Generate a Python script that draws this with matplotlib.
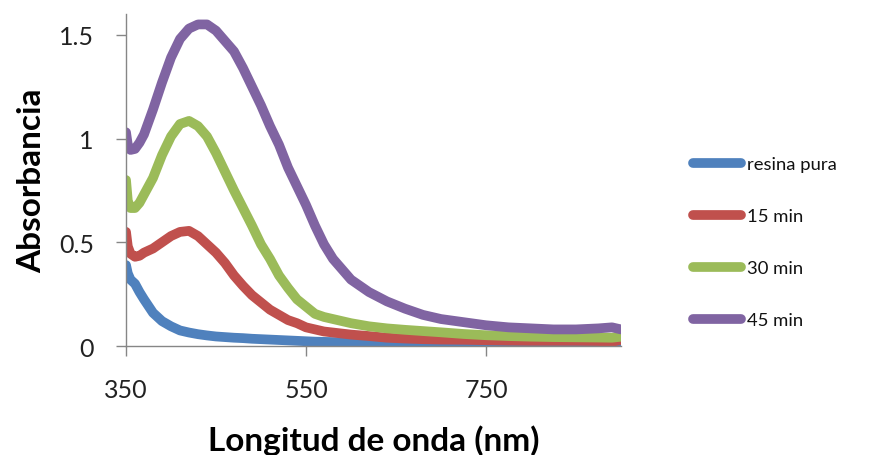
import matplotlib
matplotlib.use("Agg")
import matplotlib.pyplot as plt

plt.rcParams['font.family'] = ['Lato', 'DejaVu Sans']

# longitudes de onda (nm)
wl = [350, 352, 355, 360, 365, 370, 380, 390, 400, 410, 420, 430, 440, 450,
      460, 470, 480, 490, 500, 510, 520, 530, 540, 550, 560, 570, 580, 600,
      620, 640, 660, 680, 700, 725, 750, 775, 800, 825, 850, 875, 890, 900]

resina = [0.39, 0.35, 0.32, 0.30, 0.26, 0.225, 0.16, 0.12, 0.095, 0.075, 0.065,
          0.057, 0.051, 0.046, 0.043, 0.040, 0.038, 0.035, 0.033, 0.031, 0.029,
          0.027, 0.025, 0.023, 0.021, 0.020, 0.019, 0.018, 0.017, 0.017, 0.016,
          0.016, 0.015, 0.015, 0.015, 0.014, 0.014, 0.014, 0.014, 0.013, 0.01,
          0.015]

min15 = [0.55, 0.48, 0.445, 0.43, 0.435, 0.45, 0.47, 0.50, 0.53, 0.55, 0.555,
         0.53, 0.49, 0.45, 0.40, 0.34, 0.29, 0.245, 0.21, 0.175, 0.15, 0.125,
         0.11, 0.09, 0.08, 0.07, 0.065, 0.055, 0.048, 0.040, 0.036, 0.033,
         0.031, 0.030, 0.028, 0.026, 0.025, 0.025, 0.025, 0.024, 0.02, 0.03]

min30 = [0.80, 0.70, 0.665, 0.665, 0.69, 0.73, 0.81, 0.92, 1.01, 1.07, 1.085,
         1.06, 1.01, 0.93, 0.84, 0.75, 0.665, 0.58, 0.49, 0.42, 0.34, 0.28,
         0.225, 0.19, 0.155, 0.14, 0.13, 0.11, 0.095, 0.085, 0.078, 0.072,
         0.066, 0.058, 0.052, 0.048, 0.045, 0.043, 0.042, 0.041, 0.04, 0.045]

min45 = [1.03, 0.97, 0.945, 0.95, 0.98, 1.02, 1.14, 1.27, 1.39, 1.48, 1.53,
         1.55, 1.55, 1.52, 1.47, 1.42, 1.34, 1.25, 1.16, 1.06, 0.97, 0.86,
         0.77, 0.68, 0.58, 0.49, 0.42, 0.32, 0.26, 0.215, 0.18, 0.15, 0.13,
         0.115, 0.10, 0.09, 0.085, 0.08, 0.08, 0.085, 0.09, 0.08]

series = [resina, min15, min30, min45]
labels = ['resina pura', '15 min', '30 min', '45 min']
colors = ['#4F81BD', '#C0504D', '#9BBB59', '#8064A2']

fig = plt.figure(figsize=(8.69, 4.56), dpi=100)
ax = fig.add_axes([0.145, 0.239, 0.5696, 0.728])

for ys, lab, col in zip(series, labels, colors):
    ax.plot(wl, ys, color=col, linewidth=7, label=lab,
            solid_capstyle='round', solid_joinstyle='round')

ax.set_xlim(350, 900)
ax.set_ylim(0, 1.6)
ax.set_xticks([350, 550, 750])
ax.set_yticks([0, 0.5, 1, 1.5])
ax.set_yticklabels(['0', '0.5', '1', '1.5'])

for s in ['top', 'right']:
    ax.spines[s].set_visible(False)
for s in ['left', 'bottom']:
    ax.spines[s].set_color('#868686')
    ax.spines[s].set_linewidth(1.0)
ax.tick_params(colors='#868686', labelcolor='#222222', labelsize=18,
               length=7.2, width=1.0, direction='out', pad=16)

ax.set_xlabel('Longitud de onda (nm)', fontsize=24, fontweight='bold')
ax.set_ylabel('Absorbancia', fontsize=24, fontweight='bold')
ax.xaxis.label.set_va('baseline')
ax.yaxis.label.set_va('baseline')
ax.xaxis.set_label_coords(0.5, -0.313)
ax.yaxis.set_label_coords(-0.172, 0.5)

leg = ax.legend(loc='center left', bbox_to_anchor=(0.789, 0.467),
                bbox_transform=fig.transFigure, frameon=False, fontsize=13.3,
                handlelength=2.6, handletextpad=0.3, labelspacing=1.95,
                borderaxespad=0)
for t in leg.get_texts():
    t.set_color('#111111')

fig.savefig('out.png', dpi=100)
